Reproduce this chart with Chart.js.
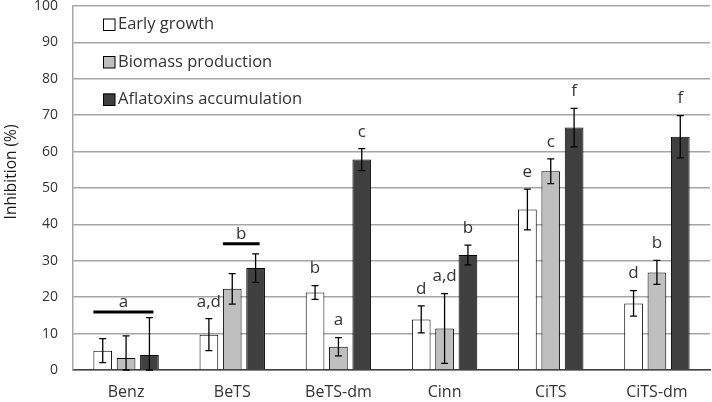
<!DOCTYPE html>
<html>
<head>
<meta charset="utf-8">
<script src="https://cdn.jsdelivr.net/npm/chart.js@4.4.0/dist/chart.umd.min.js"></script>
<style>
  html, body { margin: 0; padding: 0; background: #ffffff; }
  #wrap { width: 712px; height: 402px; position: relative; }
</style>
</head>
<body>
<div id="wrap"><canvas id="chart" width="712" height="402"></canvas></div>
<script>
// Datos del gráfico
const categorias = ['Benz', 'BeTS', 'BeTS-dm', 'Cinn', 'CiTS', 'CiTS-dm'];
const series = ['Early growth', 'Biomass production', 'Aflatoxins accumulation'];

const earlyGrowth = [5.3, 9.7, 21.3, 13.9, 44.1, 18.3];
const biomass = [3.3, 22.3, 6.4, 11.4, 54.6, 26.8];
const aflatoxins = [4.1, 28.0, 57.8, 31.6, 66.6, 64.1];

const errEarly = [3.3, 4.4, 1.9, 3.7, 5.6, 3.5];
const errBiomass = [6.1, 4.2, 2.5, 9.6, 3.4, 3.3];
const errAfla = [10.3, 3.9, 3.0, 2.7, 5.3, 5.8];

const letrasEarly = ['', 'a,d', 'b', 'd', 'e', 'd'];
const letrasBiomass = ['', '', 'a', 'a,d', 'c', 'b'];
const letrasAfla = ['', '', 'c', 'b', 'f', 'f'];

// Líneas de grupo (letra compartida)
const grupoCategorias = ['Benz', 'BeTS'];
const grupoValores = [15.9, 34.7];
const grupoLetras = ['a', 'b'];
const grupoDesde = [0, 1];
const grupoHasta = [2, 2];

const yTicks = [0, 10, 20, 30, 40, 50, 60, 70, 80, 90, 100];
const tituloY = 'Inhibition (%)';

const colores = ['#ffffff', '#bfbfbf', '#404040'];
const FUENTE = "'Open Sans', 'Liberation Sans', sans-serif";
const TEXTO = '#333333';

const errores = [errEarly, errBiomass, errAfla];
const letras = [letrasEarly, letrasBiomass, letrasAfla];

// Plugin: barras de error, letras, líneas de grupo, leyenda y título Y
const pluginAnotaciones = {
    id: 'anotaciones',
    afterDatasetsDraw(chart) {
        const ctx = chart.ctx;
        const y = chart.scales.y;
        ctx.save();

        chart.data.datasets.forEach((ds, i) => {
            const meta = chart.getDatasetMeta(i);
            meta.data.forEach((bar, j) => {
                const v = ds.data[j];
                const e = errores[i][j];
                const yTop = y.getPixelForValue(v + e);
                const yBot = y.getPixelForValue(Math.max(v - e, 0));
                ctx.strokeStyle = '#000000';
                ctx.lineWidth = 1.3;
                ctx.beginPath();
                ctx.moveTo(bar.x, yTop); ctx.lineTo(bar.x, yBot);
                ctx.moveTo(bar.x - 3.5, yTop); ctx.lineTo(bar.x + 3.5, yTop);
                ctx.moveTo(bar.x - 3.5, yBot); ctx.lineTo(bar.x + 3.5, yBot);
                ctx.stroke();

                const txt = letras[i][j];
                if (txt) {
                    ctx.fillStyle = TEXTO;
                    ctx.font = '17px ' + FUENTE;
                    ctx.textAlign = 'center';
                    ctx.textBaseline = 'middle';
                    ctx.fillText(txt, bar.x, yTop - 17);
                }
            });
        });

        grupoCategorias.forEach((cat, k) => {
            const idx = categorias.indexOf(cat);
            const b0 = chart.getDatasetMeta(grupoDesde[k]).data[idx];
            const b1 = chart.getDatasetMeta(grupoHasta[k]).data[idx];
            const x0 = b0.x - b0.width / 2;
            const x1 = b1.x + 4;
            const yl = y.getPixelForValue(grupoValores[k]);
            ctx.strokeStyle = '#000000';
            ctx.lineWidth = 3;
            ctx.beginPath();
            ctx.moveTo(x0, yl); ctx.lineTo(x1, yl);
            ctx.stroke();
            ctx.fillStyle = TEXTO;
            ctx.font = '17px ' + FUENTE;
            ctx.textAlign = 'center';
            ctx.textBaseline = 'middle';
            ctx.fillText(grupoLetras[k], (x0 + x1) / 2, yl - 10);
        });

        // Leyenda dentro del área
        const area = chart.chartArea;
        series.forEach((nombre, i) => {
            const cy = area.top + 18.5 + i * 37.5;
            const cx = area.left + 30;
            ctx.fillStyle = colores[i];
            ctx.fillRect(cx, cy - 6, 12, 12);
            ctx.strokeStyle = '#000000';
            ctx.lineWidth = 1;
            ctx.strokeRect(cx + 0.5, cy - 5.5, 11.5, 11.5);
            ctx.fillStyle = TEXTO;
            ctx.font = '16.5px ' + FUENTE;
            ctx.textAlign = 'left';
            ctx.textBaseline = 'middle';
            ctx.fillText(nombre, cx + 15, cy);
        });

        // Título del eje Y (algo por encima del centro, como en el original)
        ctx.translate(12, 172);
        ctx.rotate(-Math.PI / 2);
        ctx.fillStyle = '#1a1a1a';
        ctx.font = '15.5px ' + FUENTE;
        ctx.textAlign = 'center';
        ctx.textBaseline = 'middle';
        ctx.fillText(tituloY, 0, 0);

        ctx.restore();
    }
};

function crearGrafico() {
    const ctx = document.getElementById('chart');
    const valores = [earlyGrowth, biomass, aflatoxins];

    new Chart(ctx, {
        type: 'bar',
        data: {
            labels: categorias,
            datasets: series.map((s, i) => ({
                label: s,
                data: valores[i],
                backgroundColor: colores[i],
                borderColor: '#000000',
                borderWidth: 1,
                barPercentage: 0.8,
                categoryPercentage: 0.66
            }))
        },
        options: {
            responsive: false,
            animation: false,
            layout: { padding: { top: 6, right: 2, left: 0, bottom: 0 } },
            plugins: {
                legend: { display: false },
                tooltip: { enabled: false }
            },
            scales: {
                x: {
                    grid: { display: false, drawTicks: false },
                    border: { display: true, color: '#404040', width: 1.5 },
                    ticks: {
                        color: TEXTO,
                        font: { family: FUENTE, size: 16 },
                        padding: 13
                    },
                    afterFit(scale) { scale.height = 32; }
                },
                y: {
                    min: 0,
                    max: 100,
                    afterBuildTicks(scale) {
                        scale.ticks = yTicks.map(v => ({ value: v }));
                    },
                    grid: { color: '#a6a6a6', lineWidth: 1.5, drawTicks: false },
                    border: { display: true, color: '#a6a6a6', width: 1.5 },
                    ticks: {
                        color: TEXTO,
                        font: { family: FUENTE, size: 14 },
                        padding: 15
                    },
                    title: { display: false },
                    afterFit(scale) {
                        scale.width = 73;
                        scale.paddingTop = 0;
                        scale.paddingBottom = 0;
                    }
                }
            }
        },
        plugins: [pluginAnotaciones]
    });
}

document.addEventListener('DOMContentLoaded', crearGrafico);
</script>
</body>
</html>
